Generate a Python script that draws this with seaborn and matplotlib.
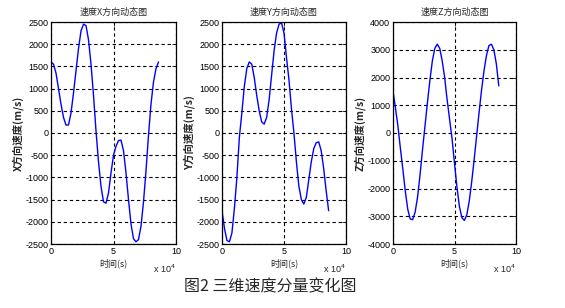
import numpy as np
import pandas as pd
import matplotlib
matplotlib.use("Agg")
import matplotlib.pyplot as plt
import seaborn as sns

# time samples (s)
t = list(range(0, 88000, 2000))

vx = [1600, 1550, 1350, 1000, 650, 350, 180, 180, 450, 900,
      1400, 1900, 2300, 2450, 2420, 2100, 1550, 850, 50, -650,
      -1200, -1550, -1580, -1350, -900, -500, -300, -170, -160, -400,
      -900, -1500, -2050, -2380, -2450, -2400, -2100, -1550, -850, -50,
      650, 1150, 1450, 1600]

vy = [-1750, -2150, -2420, -2450, -2250, -1700, -1000, -100, 450, 1050,
      1450, 1600, 1550, 1250, 850, 500, 250, 200, 350, 750,
      1300, 1850, 2250, 2450, 2480, 2250, 1700, 1200, 550, 0,
      -650, -1200, -1500, -1600, -1450, -1050, -650, -350, -220, -200,
      -400, -800, -1300, -1750]

vz = [1500, 900, 250, -550, -1300, -2100, -2750, -3100, -3120, -2850,
      -2300, -1500, -600, 250, 1100, 1900, 2600, 3050, 3200, 3050,
      2600, 2000, 1200, 500, -200, -1100, -1950, -2650, -3050, -3150,
      -2950, -2450, -1750, -950, -100, 750, 1550, 2250, 2800, 3150,
      3200, 3000, 2500, 1700]

titles = ["速度X方向动态图", "速度Y方向动态图", "速度Z方向动态图"]
ylabels = ["X方向速度(m/s)", "Y方向速度(m/s)", "Z方向速度(m/s)"]
xlabel = "时间(s)"
xtick_vals = [0, 50000, 100000]
xtick_labels = ["0", "5", "10"]
ylims = [(-2500, 2500), (-2500, 2500), (-4000, 4000)]
ysteps = [500, 500, 1000]
caption = "图2 三维速度分量变化图"

sns.set_style("white")
plt.rcParams['font.family'] = ['Liberation Sans', 'Noto Sans CJK SC', 'DejaVu Sans']
plt.rcParams['xtick.direction'] = 'in'
plt.rcParams['ytick.direction'] = 'in'

fig = plt.figure(figsize=(5.65, 3.08), dpi=100)
lefts = [51/565, 222/565, 393/565]
widths = [125/565, 124/565, 123/565]
bottom = 1 - 244/308
height = 222/308
cjk = ['Noto Sans CJK SC', 'DejaVu Sans']

series = [vx, vy, vz]
for i in range(3):
    ax = fig.add_axes([lefts[i], bottom, widths[i], height])
    df = pd.DataFrame({"t": t, "v": series[i]})
    sns.lineplot(data=df, x="t", y="v", ax=ax, color=(0, 0, 1), linewidth=1.0)
    ax.set_xlim(0, 100000)
    ax.set_ylim(*ylims[i])
    ax.set_xticks(xtick_vals)
    ax.set_xticklabels(xtick_labels)
    lo, hi = ylims[i]
    yt = list(range(lo, hi + 1, ysteps[i]))
    ax.set_yticks(yt)
    ax.set_yticklabels([str(v) for v in yt])
    ax.tick_params(labelsize=6.5, length=3, width=0.6, pad=2,
                   top=True, right=True, colors='black')
    ax.grid(True, color='black', linestyle=(0, (3, 2.5)), linewidth=0.8)
    for s in ax.spines.values():
        s.set_color('black')
        s.set_linewidth(0.9)
    ax.set_title(titles[i], fontsize=6.5, pad=5, family=cjk)
    ax.set_xlabel(xlabel, fontsize=6.5, labelpad=2, family=cjk)
    ax.set_ylabel(ylabels[i], fontsize=7.5, labelpad=1, family=cjk,
                  fontweight='bold')
    ax.text(1.0, -0.085, r"x 10$^{4}$", transform=ax.transAxes,
            ha='right', va='top', fontsize=6.5)

fig.text(270/565, 1 - 287/308, caption, ha='center', va='center', fontsize=11.5,
         family=cjk)

fig.savefig("out.png", dpi=100, facecolor='white')
